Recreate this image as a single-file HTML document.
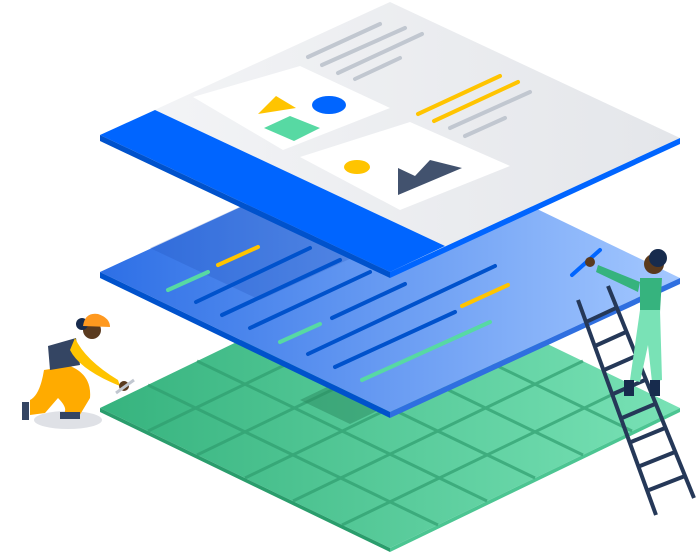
<!DOCTYPE html>
<html><head><style>html,body{margin:0;padding:0;background:#fff;width:700px;height:552px;overflow:hidden}</style></head>
<body>
<svg width="700" height="552" viewBox="0 0 700 552" xmlns="http://www.w3.org/2000/svg">
<defs>
<linearGradient id="bg" x1="0" y1="0" x2="1" y2="0"><stop offset="0" stop-color="#2d6fe6"/><stop offset="1" stop-color="#a4c8ff"/></linearGradient>
<linearGradient id="gg" x1="0" y1="0" x2="1" y2="0"><stop offset="0" stop-color="#36b37e"/><stop offset="1" stop-color="#79e2b6"/></linearGradient>
<linearGradient id="tg" x1="0" y1="0" x2="1" y2="0"><stop offset="0" stop-color="#f4f5f7"/><stop offset="1" stop-color="#e4e6ea"/></linearGradient>
</defs>
<!-- green layer -->
<polygon points="100,408 390,268 680,408 390,548" fill="url(#gg)"/>
<polygon points="100,408 390,548 390,552 100,412" fill="#2a9d6c"/>
<polygon points="390,548 680,408 680,412 390,552" fill="#4cc592"/>
<g stroke="#2f9e6f" stroke-width="3" opacity="0.7">
<line x1="148" y1="431" x2="438" y2="291"/><line x1="197" y1="455" x2="487" y2="315"/><line x1="245" y1="478" x2="535" y2="338"/><line x1="293" y1="501" x2="583" y2="361"/><line x1="342" y1="525" x2="632" y2="385"/>
<line x1="148" y1="385" x2="438" y2="525"/><line x1="197" y1="361" x2="487" y2="501"/><line x1="245" y1="338" x2="535" y2="478"/><line x1="293" y1="315" x2="583" y2="455"/><line x1="342" y1="291" x2="632" y2="431"/>
</g>
<polygon points="300,400 350,376 400,400 350,424" fill="#2a8a5f" opacity="0.5"/>
<!-- blue layer -->
<polygon points="100,272 390,138 680,278 390,412" fill="url(#bg)"/>
<polygon points="100,272 390,412 390,418 100,278" fill="#0052cc"/>
<polygon points="390,412 680,278 680,284 390,418" fill="#2f6fe0"/>
<polygon points="150,248 390,138 500,190 260,300" fill="#1e4fb8" opacity="0.25"/>
<g stroke-linecap="round" stroke-width="4">
<line x1="168" y1="290" x2="208" y2="272" stroke="#57d9a3"/>
<line x1="218" y1="265" x2="258" y2="247" stroke="#ffc400"/>
<line x1="196" y1="302" x2="310" y2="248" stroke="#0052cc"/>
<line x1="222" y1="315" x2="340" y2="260" stroke="#0052cc"/>
<line x1="250" y1="328" x2="370" y2="272" stroke="#0052cc"/>
<line x1="280" y1="342" x2="320" y2="324" stroke="#57d9a3"/>
<line x1="332" y1="318" x2="405" y2="284" stroke="#0052cc"/>
<line x1="308" y1="354" x2="495" y2="266" stroke="#0052cc"/>
<line x1="335" y1="367" x2="455" y2="312" stroke="#0052cc"/>
<line x1="462" y1="306" x2="508" y2="285" stroke="#ffc400"/>
<line x1="362" y1="380" x2="490" y2="322" stroke="#57d9a3"/>
<line x1="572" y1="275" x2="600" y2="250" stroke="#0065ff"/>
</g>
<!-- top layer -->
<polygon points="100,135 390,2 680,138 390,272" fill="url(#tg)"/>
<polygon points="100,135 155,110 445,246 390,272" fill="#0065ff"/>
<polygon points="100,135 390,272 390,278 100,141" fill="#0052cc"/>
<polygon points="390,272 680,138 680,144 390,278" fill="#0065ff"/>
<polygon points="193,97 300,66 390,108 283,150" fill="#fff"/>
<polygon points="300,157 410,122 510,166 400,210" fill="#fff"/>
<polygon points="258,114 276,96 296,108" fill="#ffc400"/>
<ellipse cx="329" cy="105" rx="17" ry="9" fill="#0065ff"/>
<polygon points="264,128 290,116 320,128 294,141" fill="#57d9a3"/>
<ellipse cx="357" cy="167" rx="13" ry="7" fill="#ffc400"/>
<polygon points="398,195 398,168 415,176 430,160 462,168" fill="#42526e"/>
<g stroke-linecap="round" stroke-width="4" stroke="#c1c7d0">
<line x1="308" y1="57" x2="380" y2="24"/><line x1="322" y1="65" x2="405" y2="28"/><line x1="338" y1="73" x2="422" y2="34"/><line x1="355" y1="79" x2="400" y2="58"/>
<line x1="450" y1="128" x2="530" y2="92"/><line x1="465" y1="136" x2="505" y2="118"/>
</g>
<g stroke-linecap="round" stroke-width="4" stroke="#ffc400">
<line x1="418" y1="114" x2="500" y2="76"/><line x1="434" y1="121" x2="518" y2="82"/>
</g>
<!-- worker left -->
<ellipse cx="68" cy="420" rx="34" ry="9" fill="#dfe1e6"/>
<path d="M44,370 Q40,395 30,400 L30,415 L45,413 L58,398 Q70,410 62,415 L78,418 L90,398 Q92,375 70,366 Z" fill="#ffab00"/>
<path d="M48,346 L76,338 L80,365 L50,370 Z" fill="#344563"/>
<path d="M75,338 Q85,360 118,380 L120,386 Q80,370 70,350 Z" fill="#ffc400"/>
<circle cx="92" cy="330" r="9" fill="#5a3a1e"/>
<circle cx="82" cy="324" r="6" fill="#172b4d"/>
<path d="M83,326 Q85,312 98,314 Q110,318 110,327 Z" fill="#ff991f"/>
<circle cx="124" cy="386" r="5" fill="#5a3a1e"/>
<rect x="22" y="402" width="7" height="18" fill="#344563"/>
<rect x="60" y="412" width="20" height="7" fill="#344563"/>
<path d="M116,393 L134,380" stroke="#c1c7d0" stroke-width="3"/>
<!-- ladder -->
<g stroke="#253858" stroke-width="4">
<line x1="578" y1="300" x2="656" y2="515"/><line x1="608" y1="286" x2="694" y2="498"/>
<line x1="586" y1="322" x2="616" y2="308"/><line x1="595" y1="346" x2="626" y2="332"/><line x1="604" y1="370" x2="636" y2="356"/><line x1="613" y1="394" x2="645" y2="380"/><line x1="622" y1="418" x2="655" y2="404"/><line x1="631" y1="442" x2="665" y2="428"/><line x1="640" y1="466" x2="675" y2="452"/><line x1="649" y1="490" x2="685" y2="476"/>
</g>
<!-- worker right -->
<path d="M640,278 L662,278 L660,312 L640,312 Z" fill="#36b37e"/>
<path d="M640,282 L598,265 L596,272 L638,292 Z" fill="#36b37e"/>
<path d="M640,310 L660,310 L662,380 L652,382 L648,345 L640,382 L630,380 Z" fill="#79e2b6"/>
<circle cx="654" cy="264" r="10" fill="#5a3a1e"/>
<circle cx="658" cy="258" r="9" fill="#172b4d"/>
<circle cx="590" cy="262" r="5" fill="#5a3a1e"/>
<rect x="624" y="380" width="10" height="16" fill="#172b4d"/><rect x="650" y="380" width="10" height="16" fill="#172b4d"/>
</svg>
</body></html>
